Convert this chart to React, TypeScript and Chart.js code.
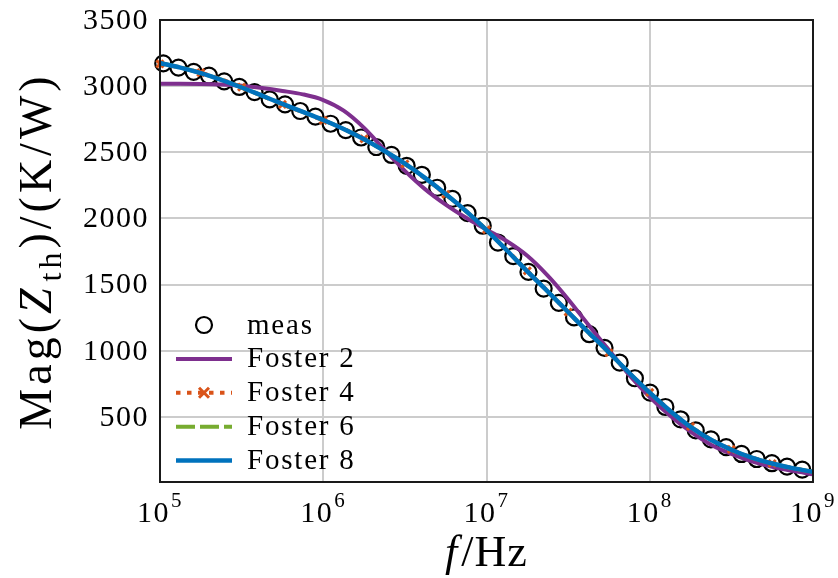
import { useEffect, useRef } from "react";
import { Chart, registerables } from "chart.js";

Chart.register(...registerables);

// ---- data ----
const measFreq = [
  1.047e5, 1.297e5, 1.607e5, 1.995e5, 2.472e5, 3.062e5, 3.793e5, 4.699e5, 5.834e5, 7.228e5,
  8.954e5, 1.109e6, 1.374e6, 1.706e6, 2.113e6, 2.618e6, 3.243e6, 4.018e6, 4.989e6, 6.18e6,
  7.656e6, 9.484e6, 1.175e7, 1.459e7, 1.807e7, 2.239e7, 2.773e7, 3.436e7, 4.266e7, 5.284e7,
  6.546e7, 8.11e7, 1.005e8, 1.247e8, 1.545e8, 1.914e8, 2.371e8, 2.938e8, 3.648e8, 4.519e8,
  5.598e8, 6.934e8, 8.59e8,
];
const measMag = [
  3172, 3140, 3108, 3080, 3036, 2994, 2955, 2900, 2862, 2812,
  2770, 2716, 2668, 2612, 2540, 2480, 2398, 2330, 2232, 2148,
  2040, 1945, 1818, 1715, 1596, 1470, 1362, 1252, 1125, 1022,
  910, 792, 684, 575, 482, 398, 330, 272, 220, 182,
  150, 124, 102,
];
const fitFreq = [
  1e5, 1.334e5, 1.778e5, 2.371e5, 3.162e5, 4.217e5, 5.623e5, 7.499e5,
  1e6, 1.334e6, 1.778e6, 2.371e6, 3.162e6, 4.217e6, 5.623e6, 7.499e6,
  1e7, 1.334e7, 1.778e7, 2.371e7, 3.162e7, 4.217e7, 5.623e7, 7.499e7,
  1e8, 1.334e8, 1.778e8, 2.371e8, 3.162e8, 4.217e8, 5.623e8, 7.499e8,
  1e9,
];
const foster2Mag = [
  3018, 3018, 3017, 3013, 3003, 2986, 2964, 2938,
  2895, 2815, 2685, 2520, 2360, 2220, 2105, 2005,
  1915, 1828, 1718, 1568, 1390, 1195, 1005, 815,
  650, 508, 388, 290, 220, 165, 123, 92,
  66,
];
const foster4Mag = [
  3168, 3140, 3102, 3052, 2992, 2926, 2862, 2802,
  2742, 2678, 2602, 2512, 2412, 2300, 2182, 2055,
  1915, 1762, 1604, 1450, 1292, 1136, 985, 832,
  685, 548, 428, 330, 254, 194, 148, 112,
  86,
];
const foster6Mag = [
  3174, 3141, 3099, 3049, 2990, 2928, 2865, 2805,
  2744, 2676, 2598, 2510, 2415, 2304, 2184, 2055,
  1912, 1759, 1601, 1448, 1293, 1138, 987, 832,
  683, 545, 426, 328, 252, 192, 148, 113,
  85,
];
const foster8Mag = [
  3175, 3140, 3098, 3048, 2990, 2928, 2866, 2806,
  2744, 2676, 2598, 2510, 2415, 2305, 2185, 2055,
  1912, 1758, 1600, 1448, 1293, 1138, 987, 832,
  683, 545, 425, 327, 252, 192, 148, 113,
  85,
];
const yTickValues = [500, 1000, 1500, 2000, 2500, 3000, 3500];
const xTickExponents = [5, 6, 7, 8, 9];
const seriesNames = ["meas", "Foster 2", "Foster 4", "Foster 6", "Foster 8"];
const seriesColors = ["#000000", "#7E2F8E", "#D95319", "#77AC30", "#0072BD"];
const xTitle = [
  { t: "f", italic: true },
  { t: "/Hz", italic: false },
];
const yTitle = [
  { t: "Mag(", italic: false, sub: false },
  { t: "Z", italic: true, sub: false },
  { t: "th", italic: false, sub: true },
  { t: ")/(K/W)", italic: false, sub: false },
];

const FONT = '"Liberation Serif", "Times New Roman", serif';

function drawRich(
  ctx: CanvasRenderingContext2D,
  segs: { t: string; italic: boolean; sub?: boolean }[],
  size: number,
  spacing: number
) {
  const fontOf = (s: { italic: boolean; sub?: boolean }) =>
    `${s.italic ? "italic " : ""}${s.sub ? Math.round(size * 0.7) : size}px ${FONT}`;
  (ctx as any).letterSpacing = `${spacing}px`;
  let total = 0;
  const widths = segs.map((s) => {
    ctx.font = fontOf(s);
    const w = ctx.measureText(s.t).width + (s.italic ? 3 : 0);
    total += w;
    return w;
  });
  let x = -total / 2;
  segs.forEach((s, i) => {
    ctx.font = fontOf(s);
    ctx.fillText(s.t, x, s.sub ? size * 0.22 : 0);
    x += widths[i];
  });
  (ctx as any).letterSpacing = "0px";
}

const overlay = {
  id: "overlay",
  afterDraw(chart: any) {
    const ctx: CanvasRenderingContext2D = chart.ctx;
    const { left, right, top, bottom } = chart.chartArea;
    const xs = chart.scales.x;
    const ys = chart.scales.y;
    ctx.save();
    // frame
    ctx.strokeStyle = "#1a1a1a";
    ctx.lineWidth = 2;
    ctx.setLineDash([]);
    ctx.strokeRect(left, top, right - left, bottom - top);

    ctx.fillStyle = "#000";
    // y tick labels
    ctx.textAlign = "right";
    ctx.textBaseline = "middle";
    ctx.font = `30px ${FONT}`;
    (ctx as any).letterSpacing = "1.5px";
    yTickValues.forEach((v) => {
      ctx.fillText(String(v), left - 11, ys.getPixelForValue(v) + 1);
    });

    // x tick labels 10^n
    ctx.textBaseline = "alphabetic";
    ctx.textAlign = "left";
    const base = 30;
    const sup = 21;
    xTickExponents.forEach((e) => {
      const px = xs.getPixelForValue(Math.pow(10, e));
      ctx.font = `${base}px ${FONT}`;
      const w1 = ctx.measureText("10").width;
      ctx.font = `${sup}px ${FONT}`;
      const w2 = ctx.measureText(String(e)).width;
      const x0 = px - (w1 + w2 + 1) / 2;
      ctx.font = `${base}px ${FONT}`;
      ctx.fillText("10", x0, 522);
      ctx.font = `${sup}px ${FONT}`;
      ctx.fillText(String(e), x0 + w1 + 1, 507);
    });
    (ctx as any).letterSpacing = "0px";

    // axis titles
    ctx.save();
    ctx.translate((left + right) / 2, 566);
    drawRich(ctx, xTitle, 44, 1);
    ctx.restore();
    ctx.save();
    ctx.translate(51, (top + bottom) / 2);
    ctx.rotate(-Math.PI / 2);
    drawRich(ctx, yTitle, 46, 4);
    ctx.restore();

    // legend
    const ds = chart.data.datasets;
    const lx0 = 176;
    const lx1 = 232;
    const lxc = (lx0 + lx1) / 2;
    const tx = 247;
    const ry0 = 325;
    const rstep = 33.9;
    ds.forEach((d: any, i: number) => {
      const ry = ry0 + i * rstep;
      if (i === 0) {
        ctx.beginPath();
        ctx.arc(lxc, ry, d.pointRadius, 0, Math.PI * 2);
        ctx.strokeStyle = d.pointBorderColor;
        ctx.lineWidth = d.pointBorderWidth;
        ctx.setLineDash([]);
        ctx.stroke();
      } else {
        ctx.beginPath();
        ctx.moveTo(lx0, ry);
        ctx.lineTo(lx1, ry);
        ctx.strokeStyle = d.borderColor;
        ctx.lineWidth = d.borderWidth;
        ctx.lineCap = "butt";
        ctx.setLineDash(d.borderDash || []);
        ctx.stroke();
        ctx.setLineDash([]);
        if (d.pointStyle === "crossRot") {
          const r = 5;
          ctx.beginPath();
          ctx.moveTo(lxc - r, ry - r);
          ctx.lineTo(lxc + r, ry + r);
          ctx.moveTo(lxc + r, ry - r);
          ctx.lineTo(lxc - r, ry + r);
          ctx.lineWidth = 3;
          ctx.stroke();
        }
      }
      ctx.fillStyle = "#000";
      ctx.font = `29px ${FONT}`;
      (ctx as any).letterSpacing = "1.8px";
      ctx.textAlign = "left";
      ctx.textBaseline = "alphabetic";
      ctx.fillText(seriesNames[i], tx, ry + 8.5);
      (ctx as any).letterSpacing = "0px";
    });
    ctx.restore();
  },
};

export default function App() {
  const canvasRef = useRef<HTMLCanvasElement>(null);
  useEffect(() => {
    const canvas = canvasRef.current!;
    const fosterSets = [foster2Mag, foster4Mag, foster6Mag, foster8Mag];
    const lineStyles = [
      { borderWidth: 4, borderDash: [] as number[] },
      { borderWidth: 4, borderDash: [4.5, 6.5] },
      { borderWidth: 4, borderDash: [19, 5] },
      { borderWidth: 4.5, borderDash: [] as number[] },
    ];
    const fosterDatasets = fosterSets.map((vals, k) => ({
      label: seriesNames[k + 1],
      data: fitFreq.map((f, i) => ({ x: f, y: vals[i] })),
      borderColor: seriesColors[k + 1],
      backgroundColor: seriesColors[k + 1],
      borderWidth: lineStyles[k].borderWidth,
      borderDash: lineStyles[k].borderDash,
      cubicInterpolationMode: "monotone" as const,
      pointRadius: k === 1 ? fitFreq.map((_, i) => (i % 2 === 0 && i < 32 ? 5 : 0)) : 0,
      pointStyle: k === 1 ? "crossRot" : "circle",
      pointBorderColor: seriesColors[k + 1],
      pointBorderWidth: 3,
      order: 4 - k,
      clip: false as const,
    }));
    const chart = new Chart(canvas, {
      type: "line",
      data: {
        datasets: [
          {
            label: seriesNames[0],
            data: measFreq.map((f, i) => ({ x: f, y: measMag[i] })),
            showLine: false,
            pointStyle: "circle",
            pointRadius: 8,
            pointBorderWidth: 2.2,
            pointBorderColor: seriesColors[0],
            pointBackgroundColor: "rgba(0,0,0,0)",
            borderColor: seriesColors[0],
            order: 5,
            clip: false,
          } as any,
          ...(fosterDatasets as any[]),
        ],
      },
      options: {
        animation: false,
        responsive: false,
        events: [],
        layout: { padding: { top: 20, right: 25, left: 0, bottom: 0 } },
        plugins: { legend: { display: false }, tooltip: { enabled: false } },
        scales: {
          x: {
            type: "logarithmic",
            min: 1e5,
            max: 1e9,
            afterBuildTicks: (s: any) => {
              s.ticks = xTickExponents.map((e) => ({ value: Math.pow(10, e) }));
            },
            afterFit: (s: any) => {
              s.height = 96;
            },
            ticks: { display: false },
            grid: { color: "#cccccc", lineWidth: 2, drawTicks: false },
            border: { display: false },
          },
          y: {
            type: "linear",
            min: 8,
            max: 3500,
            afterBuildTicks: (s: any) => {
              s.ticks = yTickValues.map((v) => ({ value: v }));
            },
            afterFit: (s: any) => {
              s.width = 160;
            },
            ticks: { display: false },
            grid: { color: "#cccccc", lineWidth: 2, drawTicks: false },
            border: { display: false },
          },
        },
      },
      plugins: [overlay],
    });
    return () => chart.destroy();
  }, []);
  return (
    <div style={{ position: "fixed", left: 0, top: 0, width: 838, height: 578, background: "#fff" }}>
      <canvas ref={canvasRef} width={838} height={578} style={{ display: "block" }} />
    </div>
  );
}
